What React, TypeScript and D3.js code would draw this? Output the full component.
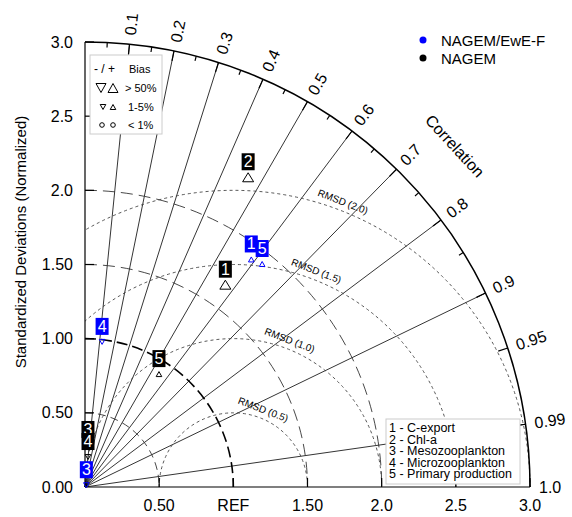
import React from "react";
import * as d3 from "d3";

const width = 572;
const height = 517;
const ox = 85;
const oy = 487;

// data
const categories = ["C-export", "Chl-a", "Mesozooplankton", "Microzooplankton", "Primary production"];
const nagemStd = [1.66, 2.36, 0.284, 0.203, 0.91];
const nagemCorr = [0.57, 0.466, 0.07, 0.1, 0.548];
const nagemBias = [60, 60, -3, -3, 3]; // percent
const eweStd = [1.9, null, 0.015, 0.985, 1.92];
const eweCorr = [0.59, null, 0.6, 0.117, 0.622];
const eweBias = [3, null, -3, -3, 3];

const stdTicks = [0.5, 1, 1.5, 2, 2.5, 3];
const xTickLabels = ["0.50", "REF", "1.50", "2.0", "2.5", "3.0"];
const yTicks = [0, 0.5, 1, 1.5, 2, 2.5, 3];
const yTickLabels = ["0.00", "0.50", "1.00", "1.50", "2.0", "2.5", "3.0"];
const corrLabels = [0.1, 0.2, 0.3, 0.4, 0.5, 0.6, 0.7, 0.8, 0.9, 0.95, 0.99, 1.0];
const corrLines = [0.1, 0.2, 0.3, 0.4, 0.5, 0.6, 0.7, 0.8, 0.9, 0.99];
const corrMinor = [0.05, 0.15, 0.25, 0.35, 0.45, 0.55, 0.65, 0.75, 0.85];
const stdArcs = [0.5, 1, 1.5, 2];
const rmsdArcs = [0.5, 1, 1.5, 2];

const font = "'Liberation Sans', Arial, Helvetica, sans-serif";

const R = d3.scaleLinear().domain([0, 3]).range([0, 445]);

const polar = (s: number, c: number) => {
  const t = Math.acos(c);
  return [ox + R(s) * Math.cos(t), oy - R(s) * Math.sin(t)];
};

const arcPath = (cx: number, cy: number, r: number, a0: number, a1: number) => {
  const p = d3.path();
  p.arc(cx, cy, r, a0, a1, false);
  return p.toString();
};

const tri = (x: number, y: number, w: number, h: number, up: boolean) =>
  up
    ? `M${x - w},${y + h / 2}L${x + w},${y + h / 2}L${x},${y - h / 2}Z`
    : `M${x - w},${y - h / 2}L${x + w},${y - h / 2}L${x},${y + h / 2}Z`;

function Marker({ x, y, bias, color }: { x: number; y: number; bias: number; color: string }) {
  const a = Math.abs(bias);
  if (a < 1) return <circle cx={x} cy={y} r={2.5} fill="none" stroke={color} />;
  const big = a > 50;
  return (
    <path
      d={tri(x, y, big ? 5.5 : 2.8, big ? 9 : 5, bias > 0)}
      fill="none"
      stroke={color}
      strokeWidth={1}
    />
  );
}

function Label({ x, y, n, color }: { x: number; y: number; n: number; color: string }) {
  return (
    <g>
      <rect x={x - 6.5} y={y - 24} width={13} height={17} fill={color} />
      <text x={x} y={y - 15.5} fill="#fff" fontSize={16} textAnchor="middle" dominantBaseline="central">
        {n}
      </text>
    </g>
  );
}

export default function App() {
  const refX = ox + R(1);
  const clip = `M${ox},${oy}L${ox},${oy - R(3) - 2}A${R(3) + 2},${R(3) + 2} 0 0 1 ${ox + R(3) + 2},${oy}Z`;

  const series = [
    { std: nagemStd, corr: nagemCorr, bias: nagemBias, color: "#000" },
    { std: eweStd, corr: eweCorr, bias: eweBias, color: "#0000ff" },
  ];

  return (
    <svg width={width} height={height} style={{ position: "absolute", left: 0, top: 0 }} fontFamily={font}>
      <defs>
        <clipPath id="quad">
          <path d={clip} />
        </clipPath>
      </defs>
      <rect width={width} height={height} fill="#fff" />

      {/* radial correlation lines */}
      {corrLines.map(c => {
        const [x, y] = polar(3, c);
        return <line key={c} x1={ox} y1={oy} x2={x} y2={y} stroke="#000" strokeWidth={0.8} />;
      })}

      {/* std arcs */}
      {stdArcs.map(s => (
        <path
          key={s}
          d={arcPath(ox, oy, R(s), -Math.PI / 2, 0)}
          fill="none"
          stroke={s === 1 ? "#000" : "#333"}
          strokeWidth={s === 1 ? 1.6 : 0.9}
          strokeDasharray={s === 1 ? "11,5" : s === 0.5 ? "8,5" : "12,6"}
        />
      ))}

      {/* RMSD arcs */}
      <g clipPath="url(#quad)">
        {rmsdArcs.map(d => (
          <path
            key={d}
            d={arcPath(refX, oy, R(d), -Math.PI, 0)}
            fill="none"
            stroke="#444"
            strokeWidth={0.9}
            strokeDasharray="3,3"
          />
        ))}
      </g>
      {rmsdArcs.map(d => {
        const phi = (69 * Math.PI) / 180;
        const rr = R(d) + 9;
        const x = refX + rr * Math.cos(phi);
        const y = oy - rr * Math.sin(phi);
        return (
          <text
            key={d}
            transform={`translate(${x},${y}) rotate(${90 - 69})`}
            fontSize={10}
            textAnchor="middle"
            dominantBaseline="central"
          >
            {`RMSD (${d.toFixed(1)})`}
          </text>
        );
      })}

      {/* outer arc and axes */}
      <path d={arcPath(ox, oy, R(3), -Math.PI / 2, 0)} fill="none" stroke="#000" strokeWidth={1.5} />
      <line x1={ox} y1={oy} x2={ox} y2={oy - R(3)} stroke="#000" strokeWidth={1.2} />
      <line x1={ox} y1={oy} x2={ox + R(3)} y2={oy} stroke="#000" strokeWidth={1.2} />

      {/* corr ticks */}
      {corrLines.concat([0.95]).map(c => {
        const [x1, y1] = polar(3, c);
        const [x2, y2] = polar(3 - R.invert(10), c);
        return <line key={c} x1={x1} y1={y1} x2={x2} y2={y2} stroke="#000" strokeWidth={1.2} />;
      })}
      {corrMinor.map(c => {
        const [x1, y1] = polar(3, c);
        const [x2, y2] = polar(3 - R.invert(5), c);
        return <line key={c} x1={x1} y1={y1} x2={x2} y2={y2} stroke="#000" strokeWidth={1.2} />;
      })}
      {corrLabels.map(c => {
        const [x, y] = polar(3 + R.invert(9), c);
        const deg = (Math.acos(c) * 180) / Math.PI;
        return (
          <text
            key={c}
            transform={`translate(${x},${y}) rotate(${-deg})`}
            fontSize={16}
            dominantBaseline="central"
          >
            {c === 1 ? "1.0" : String(c)}
          </text>
        );
      })}
      <text
        transform={`translate(${ox + 503 * Math.cos(0.745)},${oy - 503 * Math.sin(0.745)}) rotate(${90 - 42.7})`}
        fontSize={16}
        textAnchor="middle"
        dominantBaseline="central"
      >
        Correlation
      </text>

      {/* std ticks + labels */}
      {stdTicks.map((s, i) => (
        <g key={s}>
          <line x1={ox + R(s)} y1={oy} x2={ox + R(s)} y2={oy - 9} stroke="#000" strokeWidth={1.2} />
          <line x1={ox} y1={oy - R(s)} x2={ox + 9} y2={oy - R(s)} stroke="#000" strokeWidth={1.2} />
          <text x={ox + R(s)} y={511} fontSize={16} textAnchor="middle">
            {xTickLabels[i]}
          </text>
        </g>
      ))}
      {yTicks.map((s, i) => (
        <text key={s} x={73} y={oy - R(s)} fontSize={16} textAnchor="end" dominantBaseline="central">
          {yTickLabels[i]}
        </text>
      ))}
      <text
        transform={`translate(20,242) rotate(-90)`}
        fontSize={15}
        textAnchor="middle"
        dominantBaseline="central"
      >
        Standardized Deviations (Normalized)
      </text>

      {/* bias legend */}
      <rect x={90} y={55} width={72} height={79} fill="#fff" stroke="#ccc" />
      <text x={94} y={69} fontSize={12} dominantBaseline="central">- / +</text>
      <text x={129} y={69} fontSize={11} dominantBaseline="central">Bias</text>
      <path d={tri(101, 88, 5, 9, false)} fill="none" stroke="#000" />
      <path d={tri(113, 88, 5, 9, true)} fill="none" stroke="#000" />
      <text x={125} y={88} fontSize={11} dominantBaseline="central">{"> 50%"}</text>
      <path d={tri(103, 107, 2.8, 5, false)} fill="none" stroke="#000" />
      <path d={tri(113, 107, 2.8, 5, true)} fill="none" stroke="#000" />
      <text x={128} y={107} fontSize={11} dominantBaseline="central">1-5%</text>
      <circle cx={102} cy={125} r={2.3} fill="none" stroke="#000" />
      <circle cx={113} cy={125} r={2.3} fill="none" stroke="#000" />
      <text x={128} y={125} fontSize={11} dominantBaseline="central">{"< 1%"}</text>

      {/* data */}
      {series.map((sr, k) =>
        sr.std.map((s, i) => {
          if (s == null) return null;
          const [x, y] = polar(s, sr.corr[i] as number);
          return (
            <g key={`${k}-${i}`}>
              <Marker x={x} y={y} bias={sr.bias[i] as number} color={sr.color} />
              <Label x={x} y={y} n={i + 1} color={sr.color} />
            </g>
          );
        })
      )}

      {/* model legend */}
      <circle cx={423} cy={40} r={3.5} fill="#0000ff" />
      <text x={441} y={40} fontSize={15} dominantBaseline="central">NAGEM/EwE-F</text>
      <circle cx={423} cy={58} r={3.5} fill="#000" />
      <text x={441} y={58} fontSize={15} dominantBaseline="central">NAGEM</text>

      {/* variable legend */}
      <rect x={386} y={419} width={134} height={65} fill="#fff" stroke="#ccc" />
      {categories.map((c, i) => (
        <text key={c} x={389} y={428 + i * 11.5} fontSize={12.5} dominantBaseline="central">
          {`${i + 1} - ${c}`}
        </text>
      ))}
    </svg>
  );
}
